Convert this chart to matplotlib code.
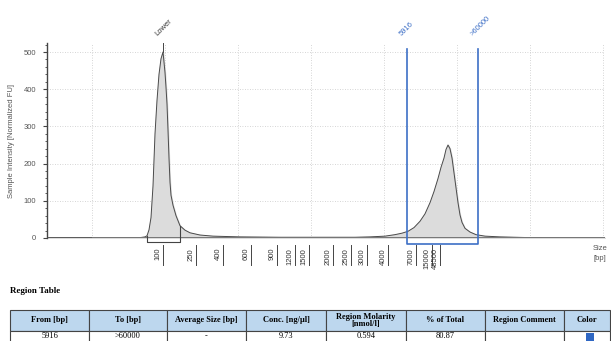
import matplotlib
matplotlib.use("Agg")
import matplotlib.pyplot as plt
from matplotlib.patches import Rectangle

# Electropherogram trace (x = migration position, y = normalized FU)
trace_x = [47, 92, 95, 140, 145, 147, 149, 151, 153, 155, 157, 159, 161, 163, 165, 166, 167,
           168, 169, 170, 171, 173, 176, 180, 185, 190, 200, 213, 240, 280, 320, 355, 370,
           385, 395, 402, 408, 414, 420, 425, 430, 434, 438, 441, 444, 446, 448, 450, 452,
           454, 456, 458, 460, 462, 465, 470, 476, 485, 500, 530, 560, 605]
trace_y = [0, 0, 1, 1, 3, 6, 22, 55, 140, 280, 370, 440, 482, 500, 445, 405, 360,
           290, 215, 150, 115, 88, 60, 33, 21, 14, 8, 5, 3, 2, 2, 2, 3,
           5, 9, 13, 18, 28, 45, 65, 95, 125, 160, 190, 215, 238, 250, 240, 215,
           175, 135, 95, 62, 42, 26, 16, 9, 5, 3, 1, 0, 0]

# Ladder ticks
ladder_pos = [163, 196, 223, 251, 277, 295, 309, 333, 351, 367, 388, 416, 432, 440]
ladder_lbl = ["100", "250", "400", "600", "900", "1200", "1500", "2000", "2500",
              "3000", "4000", "7000", "15000", "48500"]

# Peaks / regions
lower_pos = 163
lower_height = 500
lower_from, lower_to = 147, 180
region_from, region_to = 407, 478
region_labels = ["5916", ">60000"]

# Region table
table_cols = ["From [bp]", "To [bp]", "Average Size [bp]", "Conc. [ng/\u00b5l]",
              "Region Molarity\n[nmol/l]", "% of Total", "Region Comment", "Color"]
table_row = ["5916", ">60000", "-", "9.73", "0.594", "80.87", "", ""]
col_edges = [10, 89, 167, 246, 326, 406, 485, 564, 610]

W, H = 611, 341
fig = plt.figure(figsize=(W / 100, H / 100), dpi=100)
sans = "Liberation Sans"
serif = "Liberation Serif"
grey = "#555555"
blue = "#3d6fc6"

# main plot axes, placed in pixel units
x0, x1, ytop, ybot = 47, 605, 43, 238
ax = fig.add_axes([x0 / W, 1 - ybot / H, (x1 - x0) / W, (ybot - ytop) / H])
ymax = (ybot - ytop) / 0.372
ax.set_xlim(x0, x1)
ax.set_ylim(0, ymax)
for s in ["top", "right", "bottom"]:
    ax.spines[s].set_visible(False)
ax.spines["left"].set_color("#444444")
ax.spines["left"].set_linewidth(1.0)

ax.set_yticks(range(0, 501, 100))
ax.set_yticks(range(0, 521, 20), minor=True)
ax.tick_params(axis="y", which="major", length=3, width=0.8, color="#444444",
               labelsize=5.5, labelcolor=grey, pad=5)
ax.tick_params(axis="y", which="minor", length=1.5, width=0.6, color="#444444")
for lab in ax.get_yticklabels():
    lab.set_fontfamily(sans)
ax.set_xticks([])

# grid
for gy in range(100, 501, 100):
    ax.axhline(gy, color="#c8c8c8", lw=0.6, ls=(0, (1, 2)), zorder=0)
for gx in [92, 165, 238, 311, 384, 457, 530, 603]:
    ax.axvline(gx, color="#c8c8c8", lw=0.6, ls=(0, (1, 2)), zorder=0)

ax.set_ylabel("Sample Intensity [Normalized FU]", fontsize=5.5, color=grey,
              family=sans, labelpad=6)

# trace
ax.fill_between(trace_x, 0, trace_y, color="#dcdcdc", zorder=2)
ax.plot(trace_x, trace_y, color="#4a4a4a", lw=0.7, zorder=3)
ax.plot([x0, 92], [0, 0], color="#555555", lw=2.0, zorder=4, solid_capstyle="butt")
ax.plot([92, x1], [0, 0], color="#777777", lw=1.4, zorder=4, solid_capstyle="butt")

# lower marker
ax.plot([lower_pos, lower_pos], [lower_height, ymax], color="#444444", lw=0.7, clip_on=False)
ax.text(lower_pos - 4, ymax + 14, "Lower", rotation=45, rotation_mode="anchor",
        ha="left", va="bottom", fontsize=5.5, color="#333333", family=sans)
ax.plot([lower_from, lower_from, lower_to, lower_to], [6, -11, -11, 33],
        color="#444444", lw=0.8, clip_on=False, zorder=5)

# region box
rb = -16
rt = 509
ax.plot([region_from, region_from, region_to, region_to], [rt, rb, rb, rt],
        color=blue, lw=1.2, clip_on=False, zorder=5)
ax.text(region_from - 4, ymax + 14, region_labels[0], rotation=45, rotation_mode="anchor",
        ha="left", va="bottom", fontsize=5.5, color=blue, family=sans)
ax.text(region_to - 4, ymax + 14, region_labels[1], rotation=45, rotation_mode="anchor",
        ha="left", va="bottom", fontsize=5.5, color=blue, family=sans)

# ladder ticks below the axis
tr = ax.get_xaxis_transform()
h_ax = ybot - ytop
for p, l in zip(ladder_pos, ladder_lbl):
    ax.plot([p, p], [-(245 - ybot) / h_ax, -(265 - ybot) / h_ax], transform=tr,
            color="#444444", lw=0.7, clip_on=False)
    ax.text(p - 1.5, -(248 - ybot) / h_ax, l, transform=tr, rotation=90,
            ha="right", va="top", fontsize=5.5, color="#333333", family=sans)

fig.text(593 / W, 1 - 245 / H, "Size\n[bp]", ha="left", va="top", fontsize=5.5,
         color=grey, family=sans, linespacing=1.5)

# region table
tab = fig.add_axes([0, 0, 1, 1])
tab.set_xlim(0, W)
tab.set_ylim(H, 0)
tab.axis("off")
tab.text(10, 291, "Region Table", fontsize=6.5, fontweight="bold", family=serif,
         va="center", ha="left")
h_top, h_bot, d_bot = 310, 331, 343
for i in range(len(table_cols)):
    a, b = col_edges[i], col_edges[i + 1]
    tab.add_patch(Rectangle((a, h_top), b - a, h_bot - h_top, facecolor="#bdd7ee",
                            edgecolor="#444444", lw=0.8))
    tab.add_patch(Rectangle((a, h_bot), b - a, d_bot - h_bot, facecolor="white",
                            edgecolor="#444444", lw=0.8))
    tab.text((a + b) / 2, (h_top + h_bot) / 2, table_cols[i], ha="center", va="center",
             fontsize=6, fontweight="bold", family=serif, linespacing=0.95)
    tab.text((a + b) / 2, 336, table_row[i], ha="center", va="center",
             fontsize=6, family=serif)
tab.add_patch(Rectangle((586, 333), 8, 8, facecolor="#2f67c3", edgecolor="none"))

fig.savefig("out.png", dpi=100)
